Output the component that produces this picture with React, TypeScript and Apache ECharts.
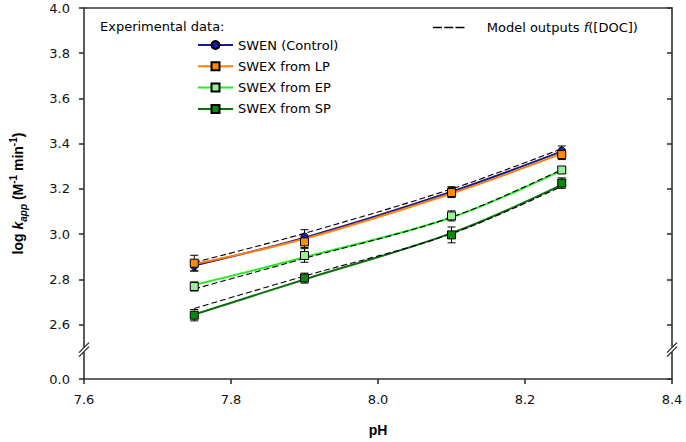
import React, { useEffect, useRef } from "react";
import * as echarts from "echarts";

// ---- data ----
const pH = [7.75, 7.9, 8.1, 8.25];

const swenObs = [2.858, 2.99, 3.19, 3.37];
const swenErr = [0.02, 0.03, 0.02, 0.02];
const swenFit = [2.862, 2.985, 3.188, 3.366];

const lpObs = [2.872, 2.966, 3.184, 3.352];
const lpErr = [0.035, 0.025, 0.022, 0.022];
const lpFit = [2.868, 2.98, 3.18, 3.356];

const epObs = [2.769, 2.906, 3.081, 3.284];
const epErr = [0.02, 0.03, 0.022, 0.012];
const epFit = [2.776, 2.898, 3.074, 3.282];

const spObs = [2.642, 2.806, 2.997, 3.226];
const spErr = [0.025, 0.022, 0.035, 0.023];
const spFit = [2.645, 2.8, 3.005, 3.218];

const modelA = [2.875, 3.004, 3.2, 3.378];
const modelB = [2.758, 2.893, 3.075, 3.286];
const modelC = [2.672, 2.815, 3.002, 3.212];

const yTickValues = [2.36, 2.6, 2.8, 3.0, 3.2, 3.4, 3.6, 3.8, 4.0];
const yTickLabels = ["0.0", "2.6", "2.8", "3.0", "3.2", "3.4", "3.6", "3.8", "4.0"];

const MODEL_NAME = "Model outputs f([DOC])";
const FONT = "DejaVu Sans";
const BOLD_FONT = "Liberation Sans";

const groups = [
  { name: "SWEN (Control)", obs: swenObs, err: swenErr, fit: swenFit, line: "#1a1a8f", fill: "#1c1caa", symbol: "circle", size: 7 },
  { name: "SWEX from LP", obs: lpObs, err: lpErr, fit: lpFit, line: "#ff7f0e", fill: "#ff8c00", symbol: "rect", size: 8 },
  { name: "SWEX from EP", obs: epObs, err: epErr, fit: epFit, line: "#22ee22", fill: "#99ee99", symbol: "rect", size: 8 },
  { name: "SWEX from SP", obs: spObs, err: spErr, fit: spFit, line: "#0a6e0a", fill: "#0a8a0a", symbol: "rect", size: 8 },
];

const axisLineStyle = { color: "#333", width: 1.6 };

export default function App() {
  const ref = useRef<HTMLDivElement>(null);

  useEffect(() => {
    document.body.style.margin = "0";
    if (!ref.current) return;
    const chart = echarts.init(ref.current, null, { renderer: "svg" });

    const series: any[] = [];
    groups.forEach((g) => {
      series.push({
        type: "line",
        name: g.name,
        data: pH.map((x, i) => [x, g.fit[i]]),
        smooth: 0.35,
        symbol: g.symbol,
        symbolSize: g.size,
        showSymbol: false,
        lineStyle: { color: g.line, width: 2 },
        itemStyle: { color: g.fill, borderColor: "#000", borderWidth: 1 },
        z: 2,
      });
    });
    [modelA, modelB, modelC].forEach((m) => {
      series.push({
        type: "line",
        name: MODEL_NAME,
        data: pH.map((x, i) => [x, m[i]]),
        smooth: 0.35,
        symbol: "none",
        lineStyle: { color: "#000", width: 1.1, type: [6, 3] },
        itemStyle: { color: "#000" },
        z: 3,
      });
    });
    groups.forEach((g) => {
      series.push({
        type: "custom",
        name: g.name,
        data: pH.map((x, i) => [x, g.obs[i], g.err[i]]),
        renderItem: (params: any, api: any) => {
          const x = api.value(0);
          const y = api.value(1);
          const e = api.value(2);
          const top = api.coord([x, y + e]);
          const bot = api.coord([x, y - e]);
          const hw = 4;
          const style = { stroke: "#000", lineWidth: 1 };
          return {
            type: "group",
            children: [
              { type: "line", shape: { x1: top[0], y1: top[1], x2: bot[0], y2: bot[1] }, style },
              { type: "line", shape: { x1: top[0] - hw, y1: top[1], x2: top[0] + hw, y2: top[1] }, style },
              { type: "line", shape: { x1: bot[0] - hw, y1: bot[1], x2: bot[0] + hw, y2: bot[1] }, style },
            ],
          };
        },
        z: 4,
      });
    });
    groups.forEach((g) => {
      series.push({
        type: "scatter",
        name: g.name,
        data: pH.map((x, i) => [x, g.obs[i]]),
        symbol: g.symbol,
        symbolSize: g.size,
        itemStyle: { color: g.fill, borderColor: "#000", borderWidth: 1, opacity: 1 },
        z: 5,
      });
    });

    const yLabelFmt = (v: number) => {
      const idx = yTickValues.findIndex((t) => Math.abs(t - v) < 1e-6);
      return idx >= 0 ? yTickLabels[idx] : "";
    };

    chart.setOption({
      animation: false,
      textStyle: { fontFamily: FONT },
      title: {
        text: "Experimental data:",
        left: 100,
        top: 20,
        padding: 0,
        textStyle: { fontFamily: FONT, fontSize: 13, fontWeight: "normal", color: "#000" },
      },
      legend: [
        {
          data: groups.map((g) => g.name),
          orient: "vertical",
          left: 197,
          top: 38,
          padding: 0,
          itemWidth: 35,
          itemHeight: 10,
          itemGap: 7.3,
          textStyle: { fontFamily: FONT, fontSize: 13, color: "#000", lineHeight: 14 },
        },
        {
          data: [
            {
              name: MODEL_NAME,
              icon: "path://M0,0H12V2H0Z M15,0H27V2H15Z M30,0H42V2H30Z",
            },
          ],
          left: 433,
          top: 21,
          padding: 0,
          itemWidth: 42,
          itemHeight: 1.5,
          itemStyle: { color: "#000" },
          formatter: () => "{n|Model outputs }{i|f}{n|([DOC])}",
          textStyle: {
            fontFamily: FONT,
            fontSize: 13,
            color: "#000",
            padding: [0, 0, 0, 12],
            rich: {
              n: { fontFamily: FONT, fontSize: 13, color: "#000" },
              i: { fontFamily: FONT, fontSize: 13, color: "#000", fontStyle: "italic" },
            },
          },
        },
      ],
      grid: { left: 83, right: 14, top: 8, bottom: 63, containLabel: false },
      xAxis: [
        {
          type: "value",
          min: 7.6,
          max: 8.4,
          interval: 0.2,
          position: "bottom",
          name: "pH",
          nameLocation: "middle",
          nameGap: 44,
          nameTextStyle: { fontFamily: BOLD_FONT, fontSize: 14, fontWeight: "bold", color: "#000" },
          axisLine: { show: true, lineStyle: axisLineStyle },
          axisTick: { show: true, inside: false, length: 5, lineStyle: axisLineStyle },
          axisLabel: { formatter: (v: number) => v.toFixed(1), fontSize: 13, color: "#111", margin: 14, fontFamily: FONT },
          splitLine: { show: false },
        },
        {
          type: "value",
          min: 7.6,
          max: 8.4,
          interval: 0.2,
          position: "top",
          axisLine: { show: true, lineStyle: axisLineStyle },
          axisTick: { show: false },
          axisLabel: { show: false },
          splitLine: { show: false },
        },
      ],
      yAxis: [
        {
          type: "value",
          min: 2.36,
          max: 4.0,
          position: "left",
          name: "{b|log }{k|k}{s|app}{b| (M}{p|-1}{b| min}{p|-1}{b|)}",
          nameLocation: "middle",
          nameGap: 56,
          nameTextStyle: {
            fontFamily: BOLD_FONT,
            fontSize: 14,
            fontWeight: "bold",
            color: "#000",
            rich: {
              b: { fontFamily: BOLD_FONT, fontSize: 14, fontWeight: "bold", color: "#000", lineHeight: 20 },
              k: { fontFamily: BOLD_FONT, fontSize: 14, fontWeight: "bold", fontStyle: "italic", color: "#000", lineHeight: 20 },
              s: { fontFamily: BOLD_FONT, fontSize: 10, fontWeight: "bold", fontStyle: "italic", color: "#000", lineHeight: 10, verticalAlign: "bottom" },
              p: { fontFamily: BOLD_FONT, fontSize: 10, fontWeight: "bold", color: "#000", lineHeight: 10, verticalAlign: "top" },
            },
          },
          axisLine: { show: true, lineStyle: axisLineStyle },
          axisTick: { show: true, inside: false, length: 5, lineStyle: axisLineStyle, customValues: yTickValues },
          axisLabel: { customValues: yTickValues, formatter: yLabelFmt, fontSize: 13, color: "#111", margin: 14, fontFamily: FONT },
          splitLine: { show: false },
        },
        {
          type: "value",
          min: 2.36,
          max: 4.0,
          position: "right",
          axisLine: { show: true, lineStyle: axisLineStyle },
          axisTick: { show: true, inside: true, length: 5, lineStyle: axisLineStyle, customValues: yTickValues },
          axisLabel: { show: false },
          splitLine: { show: false },
        },
      ],
      series,
    });

    const yb = chart.convertToPixel({ yAxisIndex: 0 }, 2.49) as number;
    const xl = chart.convertToPixel({ xAxisIndex: 0 }, 7.6) as number;
    const xr = chart.convertToPixel({ xAxisIndex: 0 }, 8.4) as number;
    const brk = (x: number) => [
      { type: "rect", shape: { x: x - 3, y: yb - 2.5, width: 6, height: 5 }, style: { fill: "#fff" }, z: 100 },
      { type: "line", shape: { x1: x - 5, y1: yb + 3, x2: x + 5, y2: yb - 7 }, style: { stroke: "#222", lineWidth: 1.2 }, z: 101 },
      { type: "line", shape: { x1: x - 5, y1: yb + 7, x2: x + 5, y2: yb - 3 }, style: { stroke: "#222", lineWidth: 1.2 }, z: 101 },
    ];
    chart.setOption({ graphic: [...brk(xl), ...brk(xr)] });

    return () => chart.dispose();
  }, []);

  return <div ref={ref} style={{ width: 686, height: 442 }} />;
}
